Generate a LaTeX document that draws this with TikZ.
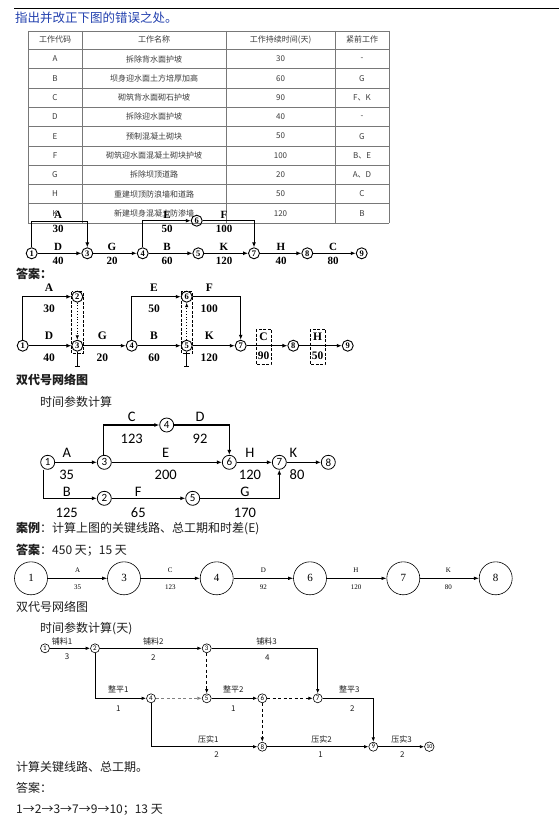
\documentclass[tikz,border=0pt]{standalone}
\usepackage{fontspec}
\setmainfont{Liberation Serif}
\newfontfamily\cjk{Noto Sans CJK SC}
\newfontfamily\lsans{Carlito}
\usetikzlibrary{arrows.meta}
\definecolor{titleblue}{RGB}{35,65,175}
\definecolor{txt}{RGB}{30,30,30}
\definecolor{tbltxt}{RGB}{60,60,60}
\definecolor{tblline}{RGB}{120,120,120}
\begin{document}
\begin{tikzpicture}[x=1pt,y=-1pt,
  tbl/.style={draw=tblline,line width=0.5pt},
  tcell/.style={font=\cjk\fontsize{8}{9}\selectfont,text=tbltxt,inner sep=0pt},
  para/.style={anchor=west,inner sep=0pt,text=txt},
  n1/.style={circle,draw,line width=0.9pt,inner sep=0pt,minimum size=11pt,font=\bfseries\fontsize{8.5}{9}\selectfont},
  e1/.style={line width=1pt,-{Latex[length=5pt,width=4pt]}},
  l1/.style={font=\bfseries\fontsize{11}{11}\selectfont,inner sep=0pt},
  l2/.style={font=\bfseries\fontsize{11.5}{12}\selectfont,inner sep=0pt},
  n3/.style={circle,draw,line width=0.8pt,inner sep=0pt,minimum size=14pt,font=\lsans\fontsize{11}{11}\selectfont},
  e3/.style={line width=1.1pt,-{Latex[length=5pt,width=4pt]}},
  l3/.style={font=\lsans\fontsize{14.5}{15}\selectfont,inner sep=0pt},
  n4/.style={circle,draw,line width=0.6pt,inner sep=0pt,minimum size=33pt,font=\fontsize{11}{11}\selectfont},
  e4/.style={line width=0.6pt,-{Latex[length=5pt,width=3.5pt]}},
  l4/.style={font=\fontsize{7}{7}\selectfont,inner sep=0pt},
  n5/.style={circle,draw,line width=0.6pt,inner sep=0pt,minimum size=9pt,font=\lsans\fontsize{7}{7}\selectfont},
  e5/.style={line width=1pt,-{Latex[length=4.5pt,width=3.5pt]}},
  d5/.style={line width=1pt,dashed,dash pattern=on 3pt off 2.5pt,-{Latex[length=4.5pt,width=3.5pt]}},
  l5/.style={font=\cjk\fontsize{8}{8}\selectfont,inner sep=0pt,text=txt},
]
\useasboundingbox (0,0) rectangle (559,818);
\fill[white] (0,0) rectangle (559,818);

% ---------- title ----------
\draw[line width=0.8pt] (14,8) -- (559,8);
\node[para,font=\cjk\fontsize{12.5}{13}\selectfont,text=titleblue] (title) at (15,17.5) {指出并改正下图的错误之处。};

% ---------- table ----------
\foreach \y in {31,49.3,68.6,87.9,107.2,126.5,145.8,165.1,184.4,203.7,223}
  \draw[tbl] (28,\y) -- (389,\y);
\foreach \x in {28,82,226,335,389}
  \draw[tbl] (\x,31) -- (\x,223);
\foreach [count=\i] \a/\b/\c/\d in {
  工作代码/工作名称/工作持续时间(天)/紧前工作,
  A/拆除背水面护坡/30/-,
  B/坝身迎水面土方培厚加高/60/G,
  C/砌筑背水面砌石护坡/90/F、K,
  D/拆除迎水面护坡/40/-,
  E/预制混凝土砌块/50/G,
  F/砌筑迎水面混凝土砌块护坡/100/B、E,
  G/拆除坝顶道路/20/A、D,
  H/重建坝顶防浪墙和道路/50/C,
  K/新建坝身混凝土防渗墙/120/B}
{
  \pgfmathsetmacro{\yy}{49.3+19.3*(\i-1.5)}
  \node[tcell] (t\i a) at (55,\yy) {\a};
  \node[tcell] (t\i b) at (154,\yy) {\b};
  \node[tcell] (t\i c) at (280.5,\yy) {\c};
  \node[tcell] (t\i d) at (362,\yy) {\d};
}

% ---------- network 1 (wrong) ----------
\node[n1] (a1) at (31.7,253.3) {1};
\node[n1] (a3) at (87.3,253.3) {3};
\node[n1] (a4) at (142.7,253.3) {4};
\node[n1] (a5) at (198.3,253.3) {5};
\node[n1] (a6) at (196.7,220.7) {6};
\node[n1] (a7) at (254,253.3) {7};
\node[n1] (a8) at (307.3,253.3) {8};
\node[n1] (a9) at (361.7,253.3) {9};
\coordinate (aAc) at (87.3,221.7);
\draw[e1] (a1.north) |- (aAc) -- (a3.north);
\draw[e1] (a1) -- (a3);
\draw[e1] (a3) -- (a4);
\draw[e1] (a4.north) |- (a6);
\draw[e1] (a4) -- (a5);
\draw[e1] (a6) -| (a7);
\draw[e1] (a5) -- (a7);
\draw[e1] (a7) -- (a8);
\draw[e1] (a8) -- (a9);
\node[l1] (aLA) at (58,215) {A};   \node[l1] (aNA) at (58,228.5) {30};
\node[l1] (aLD) at (58,246.5) {D};  \node[l1] (aND) at (58,261) {40};
\node[l1] (aLG) at (112,246.5) {G}; \node[l1] (aNG) at (112,261) {20};
\node[l1] (aLE) at (167,215) {E};  \node[l1] (aNE) at (167,228.5) {50};
\node[l1] (aLB) at (167,246.5) {B}; \node[l1] (aNB) at (167,261) {60};
\node[l1] (aLF) at (224,215) {F};  \node[l1] (aNF) at (224,228.5) {100};
\node[l1] (aLK) at (224,246.5) {K}; \node[l1] (aNK) at (224,261) {120};
\node[l1] (aLH) at (281,246.5) {H}; \node[l1] (aNH) at (281,261) {40};
\node[l1] (aLC) at (333,246.5) {C}; \node[l1] (aNC) at (333,261) {80};

% ---------- answer ----------
\node[para,font=\cjk\bfseries\fontsize{12}{12}\selectfont] (ans1) at (16,273.5) {答案：};
\node[n1] (b1) at (22.7,345.7) {1};
\node[n1] (b2) at (77.3,296.7) {2};
\node[n1] (b3) at (77.3,345.7) {3};
\node[n1] (b4) at (131.7,345.7) {4};
\node[n1] (b5) at (186.7,345.7) {5};
\node[n1] (b6) at (186.7,296.7) {6};
\node[n1] (b7) at (240.7,345.7) {7};
\node[n1] (b8) at (293.3,345.7) {8};
\node[n1] (b9) at (347.7,345.7) {9};
\draw[e1] (b1.north) |- (b2);
\draw[e1] (b1) -- (b3);
\draw[e1] (b3) -- (b4);
\draw[e1] (b4.north) |- (b6);
\draw[e1] (b4) -- (b5);
\draw[e1] (b6) -| (b7);
\draw[e1] (b5) -- (b7);
\draw[e1] (b7) -- (b8);
\draw[e1] (b8) -- (b9);
\draw[line width=0.8pt,dotted,-{Latex[length=4.5pt,width=3.5pt]}] (b2) -- (b3);
\draw[line width=0.8pt,dotted,-{Latex[length=4.5pt,width=3.5pt]}] (b5) -- (b6);
\draw[line width=0.7pt,dashed,dash pattern=on 3pt off 1.5pt] (71.7,291.7) rectangle (82.9,353.3);
\draw[line width=0.7pt,dashed,dash pattern=on 3pt off 1.5pt] (181.2,291.7) rectangle (192.3,353.3);
\coordinate (bT3) at (77.3,366.5);
\coordinate (bT5) at (186.7,366.5);
\draw[line width=1pt] (b3.south) -- (bT3);
\draw[line width=1pt] ([xshift=-2.5pt]bT3) -- ([xshift=2.5pt]bT3);
\draw[line width=1pt] (b5.south) -- (bT5);
\draw[line width=1pt] ([xshift=-2.5pt]bT5) -- ([xshift=2.5pt]bT5);
\draw[line width=0.7pt,dashed,dash pattern=on 3pt off 1.5pt] (256,329) rectangle (271,364);
\draw[line width=0.7pt,dashed,dash pattern=on 3pt off 1.5pt] (310,329) rectangle (325,364);
\node[l2] (bLA) at (49,288) {A};    \node[l2] (bNA) at (49,308.5) {30};
\node[l2] (bLD) at (49,336) {D};    \node[l2] (bND) at (49,358) {40};
\node[l2] (bLG) at (102.3,336) {G}; \node[l2] (bNG) at (102.3,358) {20};
\node[l2] (bLE) at (154,288) {E};   \node[l2] (bNE) at (154,308.5) {50};
\node[l2] (bLB) at (154,336) {B};   \node[l2] (bNB) at (154,358) {60};
\node[l2] (bLF) at (209.3,288) {F}; \node[l2] (bNF) at (209.3,308.5) {100};
\node[l2] (bLK) at (209.3,336) {K}; \node[l2] (bNK) at (209.3,358) {120};
\node[l2] (bLC) at (263.5,336.5) {C}; \node[l2] (bNC) at (263.5,356) {90};
\node[l2] (bLH) at (317.5,336.5) {H}; \node[l2] (bNH) at (317.5,356) {50};

% ---------- double code network (3) ----------
\node[para,font=\cjk\bfseries\fontsize{12}{12}\selectfont] (h3) at (16,380) {双代号网络图};
\node[para,font=\cjk\fontsize{12}{12}\selectfont] (s3) at (40,401.5) {时间参数计算};
\node[n3] (d1) at (47.7,462.3) {1};
\node[n3] (d2) at (104.3,498.3) {2};
\node[n3] (d3) at (104.3,462.3) {3};
\node[n3] (d4) at (166.7,425) {4};
\node[n3] (d5) at (192.7,498.3) {5};
\node[n3] (d6) at (229.3,462.3) {6};
\node[n3] (d7) at (279.3,462.3) {7};
\node[n3] (d8) at (328.3,462.3) {8};
\draw[e3] (d1) -- (d3);
\draw[e3] ([xshift=-1pt]d3.north) |- (d4);
\draw[e3] (d4) -| (d6);
\draw[e3] (d3) -- (d6);
\draw[e3] (d6) -- (d7);
\draw[e3] (d7) -- (d8);
\draw[e3] ([xshift=-4pt]d1.south) |- (d2);
\draw[e3] (d2) -- (d5);
\draw[e3] (d5) -| (d7);
\node[l3] (dLA) at (66.7,453) {A};   \node[l3] (dNA) at (66.7,475) {35};
\node[l3] (dLC) at (131.7,416.5) {C}; \node[l3] (dNC) at (131.7,438.5) {123};
\node[l3] (dLD) at (200,416.5) {D};   \node[l3] (dND) at (200,438.5) {92};
\node[l3] (dLE) at (165.7,453) {E};   \node[l3] (dNE) at (165.7,475) {200};
\node[l3] (dLH) at (250,453) {H};     \node[l3] (dNH) at (250,475) {120};
\node[l3] (dLK) at (293.3,453) {K};   \node[l3] (dNK) at (297,475) {80};
\node[l3] (dLB) at (66.7,491.5) {B};  \node[l3] (dNB) at (66.7,512.5) {125};
\node[l3] (dLF) at (138.3,491.5) {F}; \node[l3] (dNF) at (138.3,513) {65};
\node[l3] (dLG) at (245,491.5) {G};   \node[l3] (dNG) at (245,512.5) {170};

% ---------- case ----------
\node[para,font=\cjk\fontsize{12}{12}\selectfont] (case) at (16,528) {\textbf{案例}：计算上图的关键线路、总工期和时差(E)};
\node[para,font=\cjk\fontsize{12}{12}\selectfont] (case2) at (16,550) {\textbf{答案}：450 天；15 天};

% ---------- circle chain ----------
\node[n4] (c1) at (31,578.3) {1};
\node[n4] (c3) at (124,578.3) {3};
\node[n4] (c4) at (216.7,578.3) {4};
\node[n4] (c6) at (310,578.3) {6};
\node[n4] (c7) at (403.3,578.3) {7};
\node[n4] (c8) at (495.7,578.3) {8};
\draw[e4] (c1) -- (c3);
\draw[e4] (c3) -- (c4);
\draw[e4] (c4) -- (c6);
\draw[e4] (c6) -- (c7);
\draw[e4] (c7) -- (c8);
\node[l4] (cLA) at (77.7,570) {A};   \node[l4] (cNA) at (77.7,587.5) {35};
\node[l4] (cLC) at (170.3,570) {C};  \node[l4] (cNC) at (170.3,587.5) {123};
\node[l4] (cLD) at (263.3,570) {D};  \node[l4] (cND) at (263.3,587.5) {92};
\node[l4] (cLH) at (356,570) {H};    \node[l4] (cNH) at (356,587.5) {120};
\node[l4] (cLK) at (448.3,570) {K};  \node[l4] (cNK) at (448.3,587.5) {80};

% ---------- bottom network ----------
\node[para,font=\cjk\fontsize{12}{12}\selectfont] (h5) at (16,606.5) {双代号网络图};
\node[para,font=\cjk\fontsize{12}{12}\selectfont] (s5) at (40,628.3) {时间参数计算(天)};
\node[n5] (f1) at (45,648.3) {1};
\node[n5] (f2) at (95,648.3) {2};
\node[n5] (f3) at (206.7,648.3) {3};
\node[n5] (f4) at (151,698.3) {4};
\node[n5] (f5) at (206.7,698.3) {5};
\node[n5] (f6) at (262.3,698.3) {6};
\node[n5] (f7) at (317.7,698.3) {7};
\node[n5] (f8) at (262.3,746.7) {8};
\node[n5] (f9) at (373.3,746.7) {9};
\node[n5,minimum size=9.5pt,font=\lsans\fontsize{6}{6}\selectfont] (f10) at (429.3,746.7) {10};
\draw[e5] (f1) -- (f2);
\draw[e5] (f2) -- (f3);
\draw[e5] (f3) -| (f7);
\draw[d5] (f3) -- (f5);
\draw[e5] (f2) |- (f4);
\draw[d5,draw=gray] (f4) -- (f5);
\draw[e5] (f5) -- (f6);
\draw[d5] (f6) -- (f7);
\draw[d5] (f6) -- (f8);
\draw[e5] (f7) -| (f9);
\draw[e5] (f4) |- (f8);
\draw[e5] (f8) -- (f9);
\draw[e5] (f9) -- (f10);
\node[l5] (fL12) at (62,641.5) {铺料1};  \node[l5] (fN12) at (67,657) {3};
\node[l5] (fL23) at (153.3,641.5) {铺料2}; \node[l5] (fN23) at (153.3,657.5) {2};
\node[l5] (fL37) at (266.7,641.5) {铺料3}; \node[l5] (fN37) at (267.3,657.5) {4};
\node[l5] (fL24) at (118.3,689.3) {整平1}; \node[l5] (fN24) at (118.3,708.3) {1};
\node[l5] (fL56) at (233.3,689.3) {整平2}; \node[l5] (fN56) at (233.3,708.3) {1};
\node[l5] (fL79) at (349.3,689.3) {整平3}; \node[l5] (fN79) at (352.3,708.3) {2};
\node[l5] (fL48) at (208.3,739) {压实1};  \node[l5] (fN48) at (216.7,755) {2};
\node[l5] (fL89) at (321.7,739) {压实2};  \node[l5] (fN89) at (320.7,755) {1};
\node[l5] (fL910) at (401.7,739) {压实3}; \node[l5] (fN910) at (402.3,755) {2};

% ---------- bottom text ----------
\node[para,font=\cjk\fontsize{12}{12}\selectfont] (q5) at (16,766.7) {计算关键线路、总工期。};
\node[para,font=\cjk\fontsize{12}{12}\selectfont] (a5t) at (16,788.3) {答案：};
\node[para,font=\cjk\fontsize{12}{12}\selectfont] (a5r) at (16,810) {1→2→3→7→9→10；13 天};
\end{tikzpicture}
\end{document}
